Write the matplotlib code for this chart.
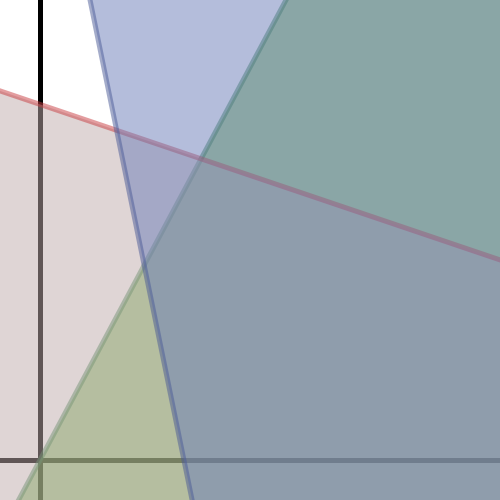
import numpy as np
import matplotlib
matplotlib.use("Agg")
import matplotlib.pyplot as plt

# Constraints: slope m, intercept c of boundary lines y = c + m*x, and side of region
names = ["green", "red", "blue"]
slopes = [1.87, -0.338, -4.90]
intercepts = [0.0, 8.89, 17.63]
sides = ["below", "below", "above"]
face_colors = [(87/255, 165/255, 43/255), (193/255, 173/255, 173/255), (107/255, 125/255, 185/255)]
edge_colors = [(45/255, 125/255, 65/255), (200/255, 60/255, 65/255), (75/255, 90/255, 150/255)]

xlim = (-1, 11.5)
ylim = (-1, 11.5)

fig = plt.figure(figsize=(5, 5), dpi=100)
ax = fig.add_axes([0, 0, 1, 1])
ax.set_xlim(*xlim)
ax.set_ylim(*ylim)
ax.axis("off")

ax.axhline(0, color="black", lw=3.6, zorder=0)
ax.axvline(0, color="black", lw=3.6, zorder=0)

x = np.linspace(-4, 16, 400)
big = 1000
for m, c, side, fc, ec in zip(slopes, intercepts, sides, face_colors, edge_colors):
    y = c + m * x
    if side == "below":
        ax.fill_between(x, y, -big, facecolor=fc, edgecolor=ec, alpha=0.5, lw=3.6, zorder=1)
    else:
        ax.fill_between(x, y, big, facecolor=fc, edgecolor=ec, alpha=0.5, lw=3.6, zorder=1)

fig.savefig("out.png", dpi=100)
